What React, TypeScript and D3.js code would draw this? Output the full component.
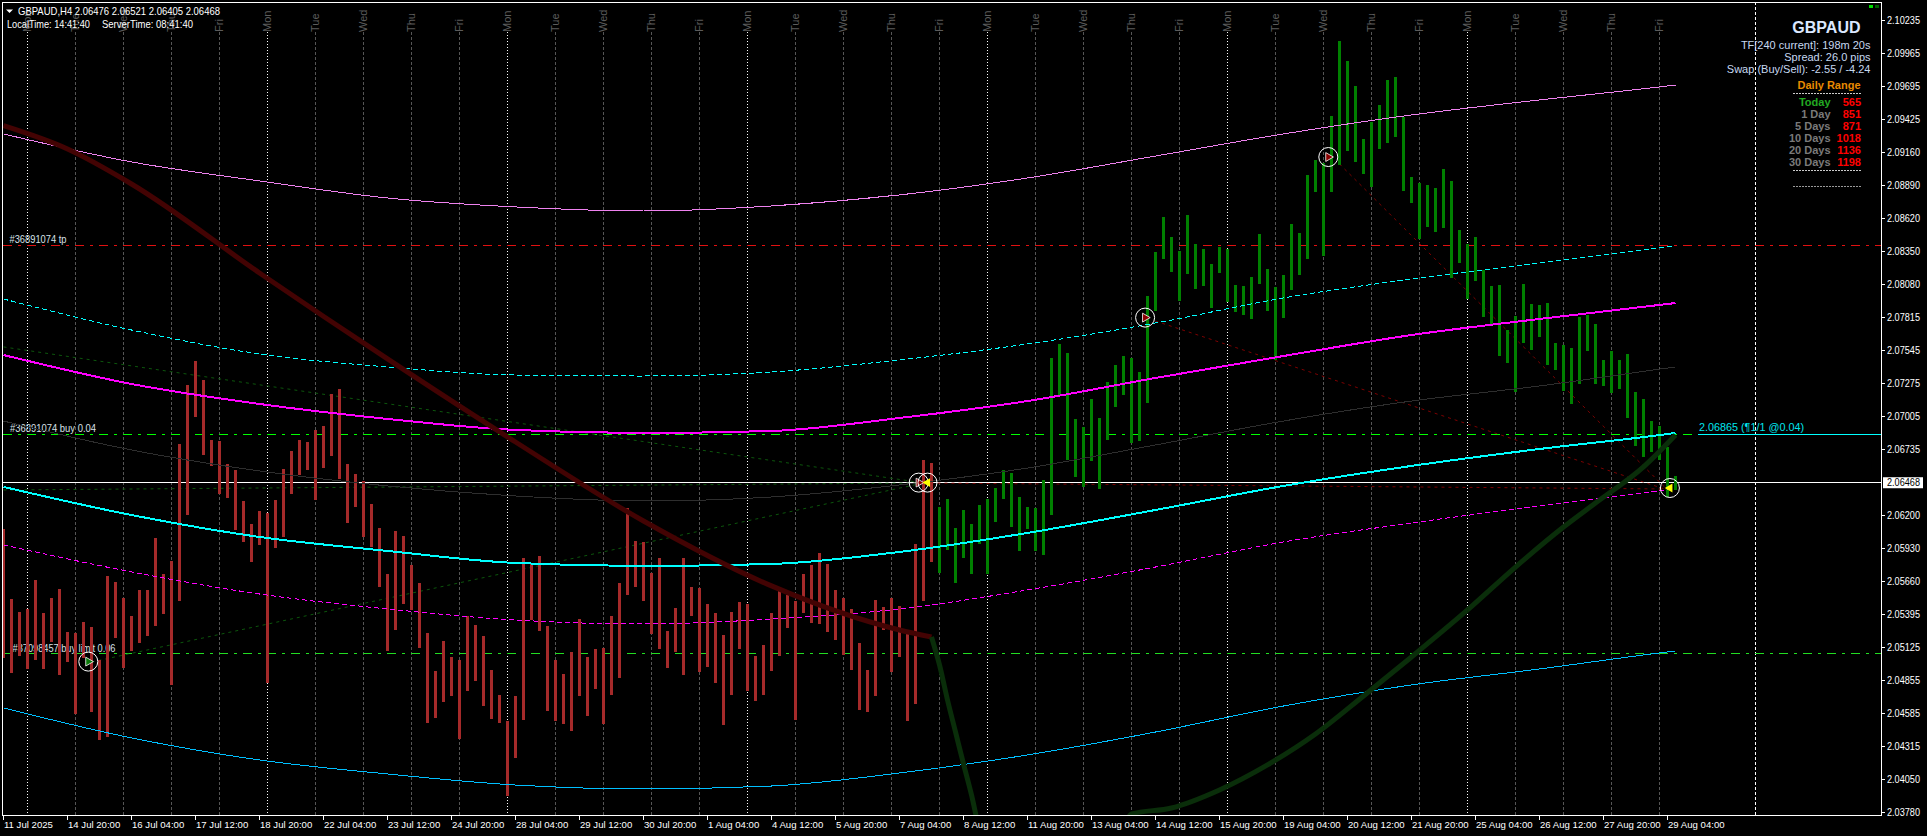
// GBPAUD H4 chart window
import React from "react";
import * as d3 from "d3";

const width = 1927;
const height = 836;

// bar highs, one per H4 bar
const highs = [
  2.06091, 2.05521, 2.05415, 2.05439, 2.05675, 2.05406, 2.05529, 2.05602, 2.05252, 2.05243,
  2.05333, 2.05292, 2.05023, 2.05708, 2.05659, 2.05529, 2.05382, 2.05594, 2.05594, 2.06018,
  2.05724, 2.0583, 2.06784, 2.07265, 2.0746, 2.07306, 2.06817, 2.06808, 2.06621, 2.06572,
  2.06319, 2.06132, 2.06238, 2.06222, 2.06327, 2.0658, 2.06727, 2.06817, 2.068, 2.06898,
  2.06931, 2.07192, 2.07232, 2.06621, 2.06539, 2.06482, 2.06295, 2.06099, 2.05724, 2.06075,
  2.06034, 2.05798, 2.05651, 2.05243, 2.04934, 2.05178, 2.05048, 2.05023, 2.05382, 2.05309,
  2.05219, 2.04942, 2.04738, 2.04526, 2.0473, 2.05855, 2.05806, 2.05871, 2.053, 2.05023,
  2.04909, 2.05088, 2.05357, 2.05048, 2.05113, 2.05121, 2.05382, 2.05651, 2.06262, 2.05993,
  2.05985, 2.05732, 2.05855, 2.0526, 2.05447, 2.05855, 2.05618, 2.0561, 2.0548, 2.05406,
  2.05227, 2.05415, 2.05496, 2.0548, 2.05056, 2.05146, 2.05406, 2.05586, 2.05553, 2.05504,
  2.05724, 2.05798, 2.05895, 2.05806, 2.05594, 2.05529, 2.05439, 2.05162, 2.04942, 2.05512,
  2.05455, 2.05529, 2.05463, 2.05235, 2.05969, 2.06653, 2.06629, 2.0627, 2.06336, 2.06099,
  2.06246, 2.06132, 2.06287, 2.06336, 2.06425, 2.06572, 2.06548, 2.06352, 2.0627, 2.06262,
  2.0649, 2.07485, 2.07599, 2.07526, 2.06988, 2.06923, 2.07151, 2.06996, 2.07289, 2.07428,
  2.07501, 2.07485, 2.07371, 2.0799, 2.08349, 2.08634, 2.08471, 2.08357, 2.0865, 2.08414,
  2.08373, 2.08251, 2.0839, 2.08373, 2.0808, 2.08072, 2.08145, 2.08496, 2.0821, 2.08064,
  2.08161, 2.08577, 2.08504, 2.08977, 2.09099, 2.09074, 2.09457, 2.10069, 2.09906, 2.09702,
  2.0927, 2.09409, 2.09547, 2.09751, 2.09775, 2.09449, 2.0896, 2.08911, 2.08895, 2.08871,
  2.09025, 2.08928, 2.08528, 2.08414, 2.08471, 2.08202, 2.08072, 2.0808, 2.07713, 2.07827,
  2.08088, 2.07925, 2.07917, 2.07933, 2.07607, 2.07591, 2.07566, 2.07819, 2.07835, 2.07762,
  2.07469, 2.07542, 2.07469, 2.07518, 2.07208, 2.07151, 2.06971, 2.06931, 2.0676, 2.06521,
];

// bar lows
const lows = [
  2.0504, 2.04917, 2.05056, 2.0495, 2.05023, 2.0495, 2.0517, 2.04901, 2.05007, 2.04583,
  2.0504, 2.046, 2.04371, 2.04396, 2.05203, 2.04958, 2.05097, 2.05162, 2.05219, 2.053,
  2.05398, 2.0482, 2.05504, 2.06205, 2.07004, 2.06694, 2.06605, 2.06376, 2.06344, 2.06083,
  2.05985, 2.05822, 2.05961, 2.04836, 2.05936, 2.06026, 2.06376, 2.06531, 2.06572, 2.06327,
  2.06588, 2.06686, 2.06499, 2.0614, 2.0627, 2.06026, 2.05944, 2.05618, 2.05097, 2.05268,
  2.0548, 2.05431, 2.05121, 2.0451, 2.04551, 2.04681, 2.0473, 2.04379, 2.04771, 2.04852,
  2.04648, 2.04542, 2.0451, 2.03915, 2.04225, 2.04534, 2.05349, 2.0526, 2.04608, 2.04526,
  2.04502, 2.04445, 2.0473, 2.04567, 2.04787, 2.04502, 2.04738, 2.04877, 2.05553, 2.05618,
  2.05504, 2.05235, 2.05113, 2.04958, 2.05088, 2.04901, 2.05382, 2.04925, 2.04966, 2.04836,
  2.04493, 2.04738, 2.05113, 2.04771, 2.04689, 2.04738, 2.04934, 2.05056, 2.05284, 2.04534,
  2.05406, 2.05325, 2.05317, 2.05252, 2.05186, 2.05064, 2.04942, 2.04616, 2.046, 2.0473,
  2.05268, 2.04925, 2.05048, 2.04526, 2.04665, 2.05504, 2.05822, 2.05732, 2.0592, 2.05651,
  2.05855, 2.05724, 2.05969, 2.05724, 2.06148, 2.06336, 2.06107, 2.05912, 2.06091, 2.05912,
  2.05879, 2.06205, 2.07175, 2.06653, 2.06515, 2.06434, 2.06645, 2.06417, 2.06817, 2.07085,
  2.07183, 2.06792, 2.06808, 2.07118, 2.07868, 2.08292, 2.08186, 2.0795, 2.0817, 2.08047,
  2.08072, 2.07893, 2.08178, 2.07941, 2.0786, 2.07835, 2.07803, 2.08088, 2.07868, 2.07469,
  2.07811, 2.08039, 2.08161, 2.08292, 2.08838, 2.08316, 2.08838, 2.09058, 2.09172, 2.09082,
  2.08985, 2.08879, 2.09188, 2.09237, 2.09286, 2.08846, 2.08748, 2.08455, 2.08553, 2.08512,
  2.08545, 2.08137, 2.08259, 2.07966, 2.08113, 2.07819, 2.07762, 2.07501, 2.07444, 2.07208,
  2.07607, 2.0755, 2.07656, 2.07428, 2.07387, 2.07216, 2.0711, 2.07273, 2.07542, 2.07273,
  2.07257, 2.072, 2.07232, 2.06996, 2.06768, 2.06678, 2.06719, 2.06653, 2.06352, 2.06405,
];

const lastRedBar = 116;

// bands are read every 16 bars, plus the last bar
const bandBars = [0, 16, 32, 48, 64, 80, 96, 112, 128, 144, 160, 176, 192, 208, 209];
const violetBand = [2.09311, 2.09083, 2.08928, 2.08789, 2.08716, 2.08683, 2.08724, 2.08814, 2.08952, 2.09131, 2.09311, 2.09466, 2.09588, 2.09702, 2.0971];
const cyanUpper = [2.07966, 2.07713, 2.07518, 2.07412, 2.07346, 2.07338, 2.07371, 2.07469, 2.07599, 2.0777, 2.07974, 2.08129, 2.08259, 2.0839, 2.08398];
const magentaMid = [2.07509, 2.07273, 2.0711, 2.06988, 2.06898, 2.06874, 2.0689, 2.06996, 2.07134, 2.07322, 2.07501, 2.07672, 2.07803, 2.07925, 2.07933];
const grayMid = [2.06971, 2.06735, 2.06564, 2.06442, 2.0636, 2.06319, 2.06352, 2.0645, 2.06588, 2.06776, 2.06971, 2.07134, 2.07257, 2.07403, 2.07412];
const cyanMid = [2.06434, 2.06205, 2.06026, 2.05912, 2.05814, 2.0579, 2.05806, 2.05904, 2.06059, 2.06246, 2.06442, 2.06605, 2.06743, 2.06865, 2.06874];
const magentaLower = [2.05961, 2.05741, 2.05561, 2.05439, 2.05349, 2.05317, 2.05357, 2.05439, 2.05594, 2.05781, 2.05985, 2.0614, 2.06279, 2.06409, 2.06417];
const blueLower = [2.04632, 2.04388, 2.04208, 2.04094, 2.04004, 2.03972, 2.03996, 2.04102, 2.04249, 2.04436, 2.04648, 2.0482, 2.0495, 2.05089, 2.05097];

// thick trend line, falling part then rising part
const fallBars = [0, 8, 16, 32, 48, 64, 80, 96, 112, 116];
const fallPrices = [2.09378, 2.09188, 2.08903, 2.08178, 2.07477, 2.068, 2.06156, 2.05627, 2.05268, 2.05211];
const riseBars = [116, 117, 118, 119, 120, 121, 122, 124, 128, 132, 136, 140, 141, 146, 152, 158, 164, 170, 176, 183, 189, 195, 199, 205, 209];
const risePrices = [2.05211, 2.04983, 2.04697, 2.04437, 2.04176, 2.03923, 2.03638, 2.03393, 2.03149, 2.03108, 2.03312, 2.03678, 2.03768, 2.03817, 2.03964, 2.04168, 2.0442, 2.0473, 2.05048, 2.05431, 2.05781, 2.06107, 2.06303, 2.06597, 2.06857];

// trade levels
const tpPrice = 2.08402;
const buyPrice = 2.06865;
const limitPrice = 2.05078;
const bidPrice = 2.06468;

// closed trade connectors: [bar, price, bar, price]
const greenLinks = [
  [11, 2.05007, 115, 2.06466],
  [0, 2.07575, 115, 2.06466],
  [0, 2.06409, 115, 2.06466],
];
const redLinks = [
  [144, 2.07786, 208, 2.06409],
  [167, 2.09066, 208, 2.06409],
  [115, 2.06466, 208, 2.06417],
];

// arrows in circles
const markerBars = [10.6, 114.4, 115.5, 142.7, 165.6, 208.3];
const markerPrices = [2.0501, 2.06469, 2.06469, 2.07814, 2.09123, 2.06425];
const markerKinds = ["green", "red", "yellow", "red", "red", "yellow"];

const priceTicks = [
  "2.10235", "2.09965", "2.09695", "2.09425", "2.09160", "2.08890", "2.08620", "2.08350", "2.08080",
  "2.07815", "2.07545", "2.07275", "2.07005", "2.06735", "2.06200", "2.05930", "2.05660", "2.05395",
  "2.05125", "2.04855", "2.04585", "2.04315", "2.04050", "2.03780",
];
const timeLabels = [
  "11 Jul 2025", "14 Jul 20:00", "16 Jul 04:00", "17 Jul 12:00", "18 Jul 20:00", "22 Jul 04:00", "23 Jul 12:00",
  "24 Jul 20:00", "28 Jul 04:00", "29 Jul 12:00", "30 Jul 20:00", "1 Aug 04:00", "4 Aug 12:00", "5 Aug 20:00",
  "7 Aug 04:00", "8 Aug 12:00", "11 Aug 20:00", "13 Aug 04:00", "14 Aug 12:00", "15 Aug 20:00", "19 Aug 04:00",
  "20 Aug 12:00", "21 Aug 20:00", "25 Aug 04:00", "26 Aug 12:00", "27 Aug 20:00", "29 Aug 04:00",
];
const weekdays = ["Mon", "Tue", "Wed", "Thu", "Fri"];
const dayCount = 35;

const rangeLabels = ["Today", "1 Day", "5 Days", "10 Days", "20 Days", "30 Days"];
const rangeValues = [565, 851, 871, 1018, 1136, 1198];

const plot = { left: 2.5, top: 2.5, right: 1881.5, bottom: 815.5 };
const font = "'Liberation Sans', Arial, sans-serif";

const x = d3.scaleLinear().domain([0, 209]).range([3.5, 1675.5]);
const y = d3.scaleLinear().domain([2.10235, 2.0378]).range([20.6, 812.5]);

const seriesLine = d3
  .line<number>()
  .x((_, i) => x(bandBars[i]))
  .y((d) => y(d))
  .curve(d3.curveMonotoneX);

const pairLine = (bars: number[]) =>
  d3
    .line<number>()
    .x((_, i) => x(bars[i]))
    .y((d) => y(d))
    .curve(d3.curveMonotoneX);

const bands = [
  { values: grayMid, color: "#2e2e2e", w: 1 },
  { values: violetBand, color: "#ee82ee", w: 1 },
  { values: cyanUpper, color: "#00ffff", w: 1, dash: "5,3" },
  { values: magentaLower, color: "#ff00ff", w: 1, dash: "5,3" },
  { values: blueLower, color: "#00bfff", w: 1 },
  { values: magentaMid, color: "#ff00ff", w: 2 },
  { values: cyanMid, color: "#00ffff", w: 2 },
];

const levelDash = "9,6,3,6";
const triangle = d3.symbol(d3.symbolTriangle, 34)() as string;

const Marker = ({ bar, price, kind }: { bar: number; price: number; kind: string }) => {
  const cx = x(bar);
  const cy = y(price);
  const fill = kind === "green" ? "#0a7a0a" : kind === "red" ? "#8b0000" : "#ffff00";
  const angle = kind === "yellow" ? -90 : 90;
  return (
    <g transform={`translate(${cx},${cy})`}>
      <circle r={9.5} fill="none" stroke="#ffffff" strokeWidth={1} />
      <path d={triangle} transform={`rotate(${angle})`} fill={fill} stroke={kind === "yellow" ? "none" : "#ffffff"} strokeWidth={0.8} />
    </g>
  );
};

export default function App() {
  const gridLines = d3.range(dayCount).map((d) => ({ pos: x(3) + 48 * d, day: d % 5 }));
  return (
    <svg
      width={width}
      height={height}
      viewBox={`0 0 ${width} ${height}`}
      style={{ position: "fixed", left: 0, top: 0, background: "#000", fontFamily: font }}
    >
      <defs>
        <clipPath id="plotClip">
          <rect x={plot.left} y={plot.top} width={plot.right - plot.left} height={plot.bottom - plot.top} />
        </clipPath>
      </defs>

      {/* day separators */}
      {gridLines.map((g) => (
        <g key={g.pos}>
          <line
            x1={g.pos}
            x2={g.pos}
            y1={32}
            y2={plot.bottom}
            stroke={g.day === 0 ? "#ffffff" : "#555555"}
            strokeDasharray={g.day === 0 ? "1,2" : "3,2"}
            shapeRendering="crispEdges"
          />
          <text
            transform={`translate(${g.pos + 3.5},32) rotate(-90)`}
            fontSize={11}
            fill="#5c5c5c"
          >
            {weekdays[g.day]}
          </text>
        </g>
      ))}
      <line x1={1755.5} x2={1755.5} y1={2} y2={plot.bottom} stroke="#ffffff" strokeDasharray="3,2" shapeRendering="crispEdges" />

      {/* trade levels */}
      <line x1={3} x2={plot.right} y1={y(tpPrice)} y2={y(tpPrice)} stroke="#e01010" strokeDasharray={levelDash} shapeRendering="crispEdges" />
      <line x1={3} x2={1698} y1={y(buyPrice)} y2={y(buyPrice)} stroke="#00ff00" strokeDasharray={levelDash} shapeRendering="crispEdges" />
      <line x1={1698} x2={plot.right} y1={y(buyPrice)} y2={y(buyPrice)} stroke="#00ffff" shapeRendering="crispEdges" />
      <line x1={3} x2={plot.right} y1={y(limitPrice)} y2={y(limitPrice)} stroke="#22dd22" strokeDasharray={levelDash} shapeRendering="crispEdges" />
      <line x1={plot.left} x2={plot.right} y1={y(bidPrice)} y2={y(bidPrice)} stroke="#ffffff" shapeRendering="crispEdges" />

      <g fontSize={10.5} fill="#d8e0e8" lengthAdjust="spacingAndGlyphs">
        <text x={9.5} y={y(tpPrice) - 2} textLength={57} lengthAdjust="spacingAndGlyphs">#36891074 tp</text>
        <text x={10} y={y(buyPrice) - 2} textLength={86} lengthAdjust="spacingAndGlyphs">#36891074 buy 0.04</text>
        <text x={12.5} y={y(limitPrice) - 1.5} textLength={103} lengthAdjust="spacingAndGlyphs">#37098457 buy limit 0.06</text>
      </g>
      <text x={1699} y={y(buyPrice) - 3.5} fontSize={11.5} fill="#00e5ee" textLength={105} lengthAdjust="spacingAndGlyphs">2.06865 (¶1/1 @0.04)</text>

      {/* closed trades */}
      {greenLinks.map((d, i) => (
        <line key={i} x1={x(d[0])} y1={y(d[1])} x2={x(d[2])} y2={y(d[3])} stroke="#0c560c" strokeDasharray="3,4" />
      ))}
      {redLinks.map((d, i) => (
        <line key={i} x1={x(d[0])} y1={y(d[1])} x2={x(d[2])} y2={y(d[3])} stroke="#7c0000" strokeDasharray="3,4" />
      ))}

      {/* bars */}
      {highs.map((h, i) => (
        <rect
          key={i}
          x={x(i) - 1.5}
          y={y(h)}
          width={3}
          height={y(lows[i]) - y(h)}
          fill={i <= lastRedBar ? "#a52a2a" : "#008000"}
          shapeRendering="crispEdges"
        />
      ))}

      {/* bands */}
      {bands.map((b, i) => (
        <path
          key={i}
          d={seriesLine(b.values) as string}
          fill="none"
          stroke={b.color}
          strokeWidth={b.w}
          strokeDasharray={b.dash}
          shapeRendering="crispEdges"
        />
      ))}

      {/* thick trend line */}
      <g clipPath="url(#plotClip)" fill="none" strokeWidth={5}>
        <path d={pairLine(fallBars)(fallPrices) as string} stroke="#430303" />
        <path d={pairLine(riseBars)(risePrices) as string} stroke="#0a2e0a" />
      </g>

      {markerBars.map((b, i) => (
        <Marker key={i} bar={b} price={markerPrices[i]} kind={markerKinds[i]} />
      ))}

      {/* frame and axes */}
      <rect x={plot.left} y={plot.top} width={plot.right - plot.left} height={plot.bottom - plot.top} fill="none" stroke="#ffffff" shapeRendering="crispEdges" />
      {priceTicks.map((t) => (
        <g key={t}>
          <line x1={plot.right} x2={plot.right + 3} y1={y(+t)} y2={y(+t)} stroke="#ffffff" shapeRendering="crispEdges" />
          <text x={1887} y={y(+t)} dy="0.35em" fontSize={10} fill="#ffffff" textLength={33} lengthAdjust="spacingAndGlyphs">{t}</text>
        </g>
      ))}
      <rect x={1883} y={y(bidPrice) - 5.5} width={40} height={11} fill="#ffffff" />
      <text x={1887} y={y(bidPrice)} dy="0.35em" fontSize={10} fill="#000000" textLength={33} lengthAdjust="spacingAndGlyphs">{bidPrice.toFixed(5)}</text>

      {timeLabels.map((t, i) => {
        const pos = x(8 * i) - 0.5;
        return (
          <g key={t}>
            <line x1={pos} x2={pos} y1={plot.bottom} y2={plot.bottom + 4} stroke="#ffffff" shapeRendering="crispEdges" />
            <text x={pos + 1} y={828} fontSize={9.6} fill="#ffffff">{t}</text>
          </g>
        );
      })}

      {/* header */}
      <path d="M6,9.5 H13 L9.5,13 Z" fill="#ffffff" />
      <text x={18} y={14.5} fontSize={10.5} fill="#ffffff" textLength={202} lengthAdjust="spacingAndGlyphs">GBPAUD,H4  2.06476 2.06521 2.06405 2.06468</text>
      <text x={7} y={27.5} fontSize={10.5} fill="#ffffff" textLength={83} lengthAdjust="spacingAndGlyphs">LocalTime: 14:41:40</text>
      <text x={102} y={27.5} fontSize={10.5} fill="#ffffff" textLength={91} lengthAdjust="spacingAndGlyphs">ServerTime: 08:41:40</text>

      {/* info panel */}
      <rect x={1869} y={5} width={4} height={3} fill="#00e000" />
      <rect x={1875} y={5} width={4} height={3} fill="#006000" />
      <g textAnchor="end">
        <text x={1860.5} y={33} fontSize={16} fontWeight="bold" fill="#dbe8ff">GBPAUD</text>
        <g fontSize={11} fill="#c6d8f0">
          <text x={1870.5} y={49}>TF[240 current]: 198m 20s</text>
          <text x={1870.5} y={61}>Spread: 26.0 pips</text>
          <text x={1870.5} y={73}>Swap (Buy/Sell): -2.55 / -4.24</text>
        </g>
        <text x={1860.5} y={89} fontSize={11} fontWeight="bold" fill="#e88a00">Daily Range</text>
        {rangeLabels.map((label, i) => (
          <g key={label} fontSize={11} fontWeight="bold">
            <text x={1830.5} y={106 + 12 * i} fill={i === 0 ? "#22aa22" : "#7a7a7a"}>{label}</text>
            <text x={1861} y={106 + 12 * i} fill="#ff0000">{rangeValues[i]}</text>
          </g>
        ))}
      </g>
      <line x1={1793} x2={1861} y1={93.5} y2={93.5} stroke="#cccccc" strokeDasharray="2,1" shapeRendering="crispEdges" />
      <line x1={1793} x2={1861} y1={170.5} y2={170.5} stroke="#cccccc" strokeDasharray="2,1" shapeRendering="crispEdges" />
      <line x1={1793} x2={1861} y1={186.5} y2={186.5} stroke="#999999" strokeDasharray="2,1" shapeRendering="crispEdges" />
    </svg>
  );
}
